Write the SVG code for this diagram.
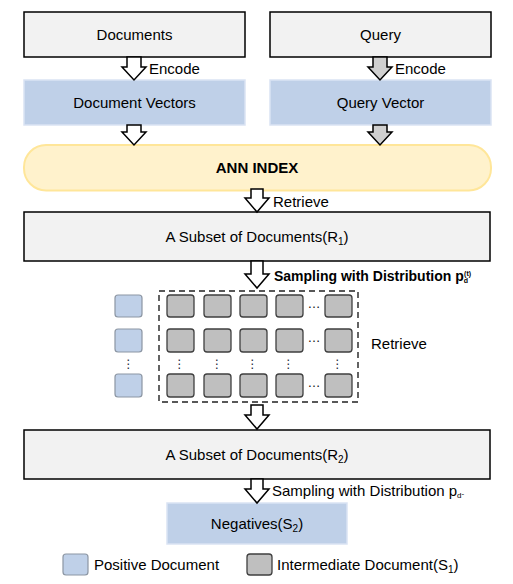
<svg xmlns="http://www.w3.org/2000/svg" width="513" height="584" viewBox="0 0 513 584">
<style>
text{font-family:"Liberation Sans",Arial,sans-serif;font-size:15px;fill:#000}
.c{text-anchor:middle}
.gbox{fill:#f2f2f2;stroke:#000;stroke-width:1.5}
.bbox{fill:#bfd0e8;stroke:#dae3f3;stroke-width:1.5}
.aw{fill:#fff;stroke:#000;stroke-width:1.5;stroke-linejoin:miter}
.ag{fill:#d0d0d0;stroke:#000;stroke-width:1.5;stroke-linejoin:miter}
.sq{fill:#bfbfbf;stroke:#3f3f3f;stroke-width:1.3}
.pq{fill:#bfd0e8;stroke:#8c96a3;stroke-width:1.2}
.vd{font-family:"DejaVu Sans",sans-serif;font-size:12px;fill:#1a1f3a;text-anchor:middle}
.hd{font-size:13px;fill:#111;text-anchor:middle}
</style>

<g id="documents"><rect class="gbox" x="24" y="12" width="221" height="45"/><text class="c" x="134.5" y="40">Documents</text></g>
<g id="query"><rect class="gbox" x="270" y="12" width="221" height="45"/><text class="c" x="380.5" y="40">Query</text></g>
<g id="doc-vectors"><rect class="bbox" x="24" y="80" width="221" height="45"/><text class="c" x="134.5" y="108">Document Vectors</text></g>
<g id="query-vector"><rect class="bbox" x="270" y="80" width="221" height="45"/><text class="c" x="380.5" y="108">Query Vector</text></g>
<g id="ann-index"><rect x="24" y="145" width="467" height="45.5" rx="22" ry="22" fill="#fff2cc" stroke="#ffe699" stroke-width="2"/><text class="c" x="257" y="173" style="font-weight:bold">ANN INDEX</text></g>
<g id="subset-r1"><rect class="gbox" x="24" y="212" width="466" height="49"/><text class="c" x="257" y="242">A Subset of Documents(R<tspan font-size="10" dy="3">1</tspan><tspan dy="-3">)</tspan></text></g>

<g id="sample-grid">
<rect x="159" y="291" width="199" height="111" fill="none" stroke="#222" stroke-width="1.4" stroke-dasharray="6,4"/>
<g id="positives">
<rect class="pq" x="115" y="295" width="27" height="22" rx="3"/>
<rect class="pq" x="115" y="329" width="27" height="23" rx="3"/>
<rect class="pq" x="115" y="374" width="27" height="23" rx="3"/>
<text class="vd" x="128.5" y="368">⋮</text>
</g>
<g id="intermediates">
<rect class="sq" x="167" y="295" width="27" height="22" rx="3"/><rect class="sq" x="204" y="295" width="27" height="22" rx="3"/><rect class="sq" x="240" y="295" width="27" height="22" rx="3"/><rect class="sq" x="276" y="295" width="27" height="22" rx="3"/><rect class="sq" x="325" y="295" width="27" height="22" rx="3"/>
<rect class="sq" x="167" y="329" width="27" height="23" rx="3"/><rect class="sq" x="204" y="329" width="27" height="23" rx="3"/><rect class="sq" x="240" y="329" width="27" height="23" rx="3"/><rect class="sq" x="276" y="329" width="27" height="23" rx="3"/><rect class="sq" x="325" y="329" width="27" height="23" rx="3"/>
<rect class="sq" x="167" y="374" width="27" height="23" rx="3"/><rect class="sq" x="204" y="374" width="27" height="23" rx="3"/><rect class="sq" x="240" y="374" width="27" height="23" rx="3"/><rect class="sq" x="276" y="374" width="27" height="23" rx="3"/><rect class="sq" x="325" y="374" width="27" height="23" rx="3"/>
<text class="hd" x="314" y="308">…</text><text class="hd" x="314" y="342">…</text><text class="hd" x="314" y="387">…</text>
<text class="vd" x="179.5" y="368">⋮</text><text class="vd" x="217" y="368">⋮</text><text class="vd" x="252.5" y="368">⋮</text><text class="vd" x="288.5" y="368">⋮</text><text class="vd" x="337.5" y="368">⋮</text>
</g>
</g>

<g id="subset-r2"><rect class="gbox" x="24" y="430" width="466" height="49"/><text class="c" x="257" y="460">A Subset of Documents(R<tspan font-size="10" dy="3">2</tspan><tspan dy="-3">)</tspan></text></g>
<g id="negatives"><rect class="bbox" x="167" y="503" width="180" height="41"/><text class="c" x="257" y="529">Negatives(S<tspan font-size="10" dy="3">2</tspan><tspan dy="-3">)</tspan></text></g>

<g id="connectors">
<path class="aw" d="M127,57 H141 V67 H146 L134,80 L122,67 H127 Z"/>
<path class="ag" d="M373,57 H387 V67 H392 L380,80 L368,67 H373 Z"/>
<path class="aw" d="M127,125 H141 V132 H146 L134,145 L122,132 H127 Z"/>
<path class="ag" d="M373,125 H387 V132 H392 L380,145 L368,132 H373 Z"/>
<path class="aw" d="M251,189 H263 V198 H269 L257,212 L245,198 H251 Z"/>
<path class="aw" d="M251,261 H263 V274 H269 L257,288 L245,274 H251 Z"/>
<path class="aw" d="M251,405 H263 V415 H269 L257,429 L245,415 H251 Z"/>
<path class="aw" d="M251,479 H263 V489 H269 L257,503 L245,489 H251 Z"/>
<text x="149" y="74" font-size="14">Encode</text>
<text x="395" y="74" font-size="14">Encode</text>
<text x="273" y="207">Retrieve</text>
<text x="274" y="281" style="font-weight:bold;font-size:14px">Sampling with Distribution p<tspan font-size="7" dy="2">d</tspan><tspan font-size="7" dx="-4" dy="-7">(t)</tspan></text>
<text x="371" y="349">Retrieve</text>
<text x="272" y="496">Sampling with Distribution p<tspan font-size="8" dy="2">d</tspan><tspan font-size="8" dy="-2">-</tspan></text>
</g>

<g id="legend">
<rect class="pq" x="63" y="554" width="25" height="21" rx="3"/><text x="94" y="570">Positive Document</text>
<rect class="sq" x="247" y="554" width="25" height="21" rx="3"/><text x="277" y="570">Intermediate Document(S<tspan font-size="10" dy="3">1</tspan><tspan dy="-3">)</tspan></text>
</g>
</svg>
